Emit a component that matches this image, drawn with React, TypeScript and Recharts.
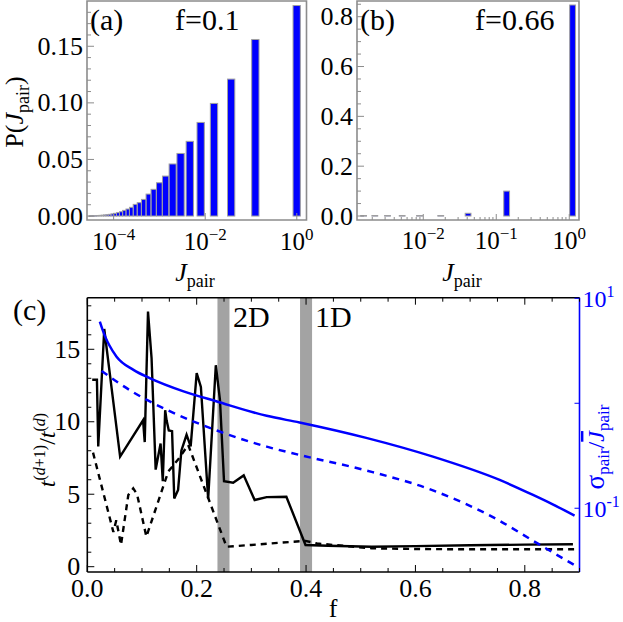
import React from "react";
import { ComposedChart, Bar, Line, XAxis, YAxis, ReferenceArea } from "recharts";

const SERIF = "Liberation Serif, Times New Roman, serif";
const BLUE = "#0000ff";
const FRAME = "#8c8c8c";

// (a) f = 0.1 : bin positions (J_pair) and probabilities
const jPairA = [
  1, 0.125, 0.03704, 0.01563, 0.008, 0.00463, 0.002915, 0.001953, 0.001372, 0.001,
  0.0007513, 0.0005787, 0.0004552, 0.0003644, 0.0002963, 0.0002441, 0.0002035,
  0.0001715, 0.0001458, 0.000125, 0.000108, 0.0000939, 0.0000822, 0.0000723,
  0.000064, 0.0000569, 0.0000508, 0.0000456, 0.000041, 0.000037, 0.0000336, 0.0000305,
];
const probA = [
  0.186, 0.156, 0.121, 0.0995, 0.0827, 0.066, 0.0553, 0.046, 0.0353, 0.0294, 0.0236,
  0.0194, 0.0147, 0.0118, 0.0103, 0.0077, 0.0062, 0.005, 0.0038, 0.003, 0.0024,
  0.0019, 0.0015, 0.0012, 0.001, 0.0008, 0.0006, 0.0005, 0.0004, 0.0003, 0.0003, 0.0002,
];

// (b) f = 0.66
const jPairB = [1, 0.125, 0.03704, 0.01563, 0.008, 0.00463, 0.002915, 0.001953, 0.001372];
const probB = [0.847, 0.1, 0.011, 0.002, 0.002, 0.002, 0.002, 0.002, 0.002];

// (c) t^(d+1)/t^(d) vs f (left axis)
const fRatio = [
  0.009, 0.0176, 0.02, 0.031, 0.06, 0.102, 0.105, 0.111, 0.1175, 0.125, 0.134, 0.138,
  0.1424, 0.145, 0.149, 0.155, 0.159, 0.166, 0.172, 0.1815, 0.189, 0.2, 0.2077, 0.221,
  0.235, 0.2426, 0.25, 0.2667, 0.286, 0.306, 0.328, 0.364, 0.399, 0.44, 0.52, 0.6, 0.7,
  0.8, 0.888,
];
const ratio = [
  12.9, 12.9, 8.3, 16.4, 7.6, 10.1, 8.6, 17.6, 14.4, 6.7, 8.5, 5.9, 10.8, 10.1, 9.4,
  9.35, 4.7, 5.3, 8.0, 9.1, 8.3, 13.35, 12.4, 4.7, 13.9, 11.5, 5.9, 5.8, 6.3, 4.6, 4.8,
  4.83, 1.5, 1.45, 1.38, 1.42, 1.48, 1.52, 1.55,
];
const fRatioDash = [
  0.0105, 0.0476, 0.053, 0.0616, 0.075, 0.084, 0.091, 0.108, 0.148, 0.166, 0.1845,
  0.2546, 0.3, 0.35, 0.399, 0.42, 0.52, 0.6, 0.7, 0.8, 0.9,
];
const ratioDash = [
  7.87, 2.4, 3.2, 1.5, 4.95, 5.4, 5.0, 2.07, 6.56, 7.4, 8.4, 1.38, 1.5, 1.65, 1.78,
  1.6, 1.27, 1.22, 1.2, 1.2, 1.2,
];

// (c) sigma_pair / mean J_pair vs f (right log axis)
const fSigma = [
  0.023, 0.028, 0.0335, 0.04, 0.0535, 0.0844, 0.115, 0.176, 0.237, 0.328, 0.388, 0.51,
  0.632, 0.754, 0.815, 0.851, 0.891,
];
const sigma = [
  5.98, 5.01, 4.22, 3.59, 2.78, 2.08, 1.73, 1.3, 1.04, 0.759, 0.656, 0.468, 0.31, 0.186,
  0.134, 0.109, 0.0851,
];
const fSigmaDash = [0.0262, 0.0416, 0.0535, 0.0844, 0.146, 0.237, 0.328, 0.388, 0.51, 0.632, 0.754, 0.815, 0.897];
const sigmaDash = [2.03, 1.78, 1.61, 1.27, 0.863, 0.55, 0.386, 0.322, 0.229, 0.148, 0.0759, 0.049, 0.0275];

const bands = [
  [0.238, 0.26],
  [0.389, 0.411],
];

// ticks
const xTicksA = [1e-4, 1e-2, 1];
const yTicksA = Array.from({ length: 19 }, (_, i) => i / 100);
const xTicksB = [0.002, 0.003, 0.004, 0.005, 0.006, 0.007, 0.008, 0.009, 0.01, 0.02, 0.03, 0.04, 0.05, 0.06, 0.07, 0.08, 0.09, 0.1, 0.2, 0.3, 0.4, 0.5, 0.6, 0.7, 0.8, 0.9, 1];
const yTicksB = Array.from({ length: 18 }, (_, i) => i * 0.05);
const xTicksC = Array.from({ length: 19 }, (_, i) => i * 0.05);
const yTicksCL = Array.from({ length: 19 }, (_, i) => i);
const yTicksCR = [0.1, 1, 10];

const near = (v: number, step: number) => Math.abs(v / step - Math.round(v / step)) < 1e-6;
const isDecade = (v: number) => near(Math.log10(v), 1);

const pow10 = (v: number, sup = 17, minus = "\u2212") => {
  const e = Math.round(Math.log10(v));
  return (
    <>
      <tspan>10</tspan>
      <tspan dy={-10} fontSize={sup}>{e < 0 ? minus + -e : String(e)}</tspan>
    </>
  );
};

type Side = "bottom" | "left" | "right" | "top";
interface TickOpts {
  color: string;
  textColor?: string;
  isMajor: (v: number) => boolean;
  label?: (v: number) => React.ReactNode | null;
  offset?: number;
  fontSize?: number;
  majorLen?: number;
  minorLen?: number;
}

function tickMaker(side: Side, o: TickOpts) {
  const { color, textColor = "#000", isMajor, label, offset = 0, fontSize = 26, majorLen = 7, minorLen = 4 } = o;
  return (props: any) => {
    const { x, y, payload } = props;
    const v = payload.value;
    const major = isMajor(v);
    const len = major ? majorLen : minorLen;
    const txt = major && label ? label(v) : null;
    const tprops = { fontFamily: SERIF, fontSize, fill: textColor };
    if (side === "bottom")
      return (
        <g>
          <line x1={x} x2={x} y1={y} y2={y - len} stroke={color} strokeWidth={1} />
          {txt != null && <text x={x} y={y + offset} textAnchor="middle" {...tprops}>{txt}</text>}
        </g>
      );
    if (side === "top")
      return (
        <g>
          <line x1={x} x2={x} y1={y} y2={y + len} stroke={color} strokeWidth={1} />
        </g>
      );
    if (side === "left")
      return (
        <g>
          <line x1={x} x2={x + len} y1={y} y2={y} stroke={color} strokeWidth={1} />
          {txt != null && <text x={x - offset} y={y + 8.5} textAnchor="end" {...tprops}>{txt}</text>}
        </g>
      );
    return (
      <g>
        <line x1={x} x2={x - len} y1={y} y2={y} stroke={color} strokeWidth={1} />
        {txt != null && <text x={x + offset} y={y + 9} textAnchor="start" {...tprops}>{txt}</text>}
      </g>
    );
  };
}

// ---------- panel (a)
const A_W = 330, A_H = 300;
const A_PLOT = { left: 87, right: 306.5, top: 1, bottom: 220 };
const domXA: [number, number] = [2.62e-5, 1.63];
const domYA: [number, number] = [-0.0035, 0.19];

function PanelA() {
  const data = jPairA.map((j, i) => ({ j, p: probA[i] }));
  const ppd = (A_PLOT.right - A_PLOT.left) / Math.log10(domXA[1] / domXA[0]);
  const shape = (props: any) => {
    const { x, y, width, height, index } = props;
    const cx = x + width / 2;
    const next = jPairA[index + 1];
    const gap = next ? Math.log10(jPairA[index] / next) : Math.log10(jPairA[index - 1] / jPairA[index]);
    const w = Math.min(7.3, gap * ppd);
    return <rect x={cx - w / 2} y={y} width={w} height={Math.max(height, 0.6)} fill={BLUE} stroke="#a0a0a0" strokeWidth={1} />;
  };
  return (
    <ComposedChart
      width={A_W}
      height={A_H}
      data={data}
      margin={{ top: A_PLOT.top, left: A_PLOT.left - 60, right: A_W - A_PLOT.right, bottom: A_H - A_PLOT.bottom - 40 }}
    >
      <XAxis
        dataKey="j"
        type="number"
        scale="log"
        domain={domXA}
        allowDataOverflow
        ticks={xTicksA}
        interval={0}
        tickSize={0}
        tickMargin={0}
        height={40}
        axisLine={false}
        tick={tickMaker("bottom", { color: FRAME, isMajor: () => true, label: (v) => pow10(v), offset: 30, fontSize: 25 })}
      />
      <YAxis
        type="number"
        domain={domYA}
        allowDataOverflow
        ticks={yTicksA}
        interval={0}
        width={60}
        tickSize={0}
        tickMargin={0}
        axisLine={false}
        tick={tickMaker("left", { color: FRAME, isMajor: (v) => near(v, 0.05), label: (v) => v.toFixed(2), offset: 4 })}
      />
      <ReferenceArea x1={domXA[0]} x2={domXA[1]} y1={domYA[0]} y2={domYA[1]} fill="none" stroke={FRAME} strokeWidth={1.6} />
      <Bar dataKey="p" barSize={6} shape={shape} isAnimationActive={false} />
    </ComposedChart>
  );
}

// ---------- panel (b)
const B_W = 313, B_H = 300;
const B_PLOT = { left: 47, right: 269, top: 1, bottom: 220 };
const domXB: [number, number] = [1.236e-3, 1.36];
const domYB: [number, number] = [-0.016, 0.863];

function PanelB() {
  const data = jPairB.map((j, i) => ({ j, p: probB[i] }));
  const shape = (props: any) => {
    const { x, y, width, height } = props;
    const left = x + width / 2;
    return <rect x={left} y={y} width={5.8} height={Math.max(height, 0.6)} fill={BLUE} stroke="#a0a0a0" strokeWidth={1} />;
  };
  return (
    <ComposedChart
      width={B_W}
      height={B_H}
      data={data}
      margin={{ top: B_PLOT.top, left: B_PLOT.left - 40, right: B_W - B_PLOT.right, bottom: B_H - B_PLOT.bottom - 40 }}
    >
      <XAxis
        dataKey="j"
        type="number"
        scale="log"
        domain={domXB}
        allowDataOverflow
        ticks={xTicksB}
        interval={0}
        tickSize={0}
        tickMargin={0}
        height={40}
        axisLine={false}
        tick={tickMaker("bottom", { color: FRAME, isMajor: isDecade, label: (v) => (v < 0.005 ? null : pow10(v)), offset: 29, fontSize: 25, majorLen: 6, minorLen: 3 })}
      />
      <YAxis
        type="number"
        domain={domYB}
        allowDataOverflow
        ticks={yTicksB}
        interval={0}
        width={40}
        tickSize={0}
        tickMargin={0}
        axisLine={false}
        tick={tickMaker("left", { color: FRAME, isMajor: (v) => near(v, 0.2), label: (v) => v.toFixed(1), offset: 4 })}
      />
      <ReferenceArea x1={domXB[0]} x2={domXB[1]} y1={domYB[0]} y2={domYB[1]} fill="none" stroke={FRAME} strokeWidth={1.6} />
      <Bar dataKey="p" barSize={6} shape={shape} isAnimationActive={false} />
    </ComposedChart>
  );
}

// ---------- panel (c)
const C_W = 623, C_H = 342;
const C_PLOT = { left: 87.3, right: 579.5, top: 17.7, bottom: 292 };
const domXC: [number, number] = [0, 0.9];
const domYL: [number, number] = [-0.366, 18.56];
const domYR: [number, number] = [0.0247, 10.13];

function PanelC() {
  const ratioData = fRatio.map((f, i) => ({ f, v: ratio[i] }));
  const ratioDashData = fRatioDash.map((f, i) => ({ f, v: ratioDash[i] }));
  const sigmaData = fSigma.map((f, i) => ({ f, v: sigma[i] }));
  const sigmaDashData = fSigmaDash.map((f, i) => ({ f, v: sigmaDash[i] }));
  return (
    <ComposedChart
      width={C_W}
      height={C_H}
      margin={{ top: C_PLOT.top - 1, left: C_PLOT.left - 60, right: C_W - C_PLOT.right - 40, bottom: C_H - C_PLOT.bottom - 40 }}
    >
      <XAxis
        xAxisId="b"
        dataKey="f"
        type="number"
        domain={domXC}
        allowDataOverflow
        ticks={xTicksC}
        interval={0}
        tickSize={0}
        tickMargin={0}
        height={40}
        axisLine={{ stroke: "#000", strokeWidth: 1.6 }}
        tick={tickMaker("bottom", { color: "#000", isMajor: (v) => near(v, 0.2), label: (v) => v.toFixed(1), offset: 25 })}
      />
      <XAxis
        xAxisId="t"
        orientation="top"
        dataKey="f"
        type="number"
        domain={domXC}
        allowDataOverflow
        ticks={xTicksC}
        interval={0}
        tickSize={0}
        tickMargin={0}
        height={1}
        axisLine={{ stroke: "#000", strokeWidth: 1.6 }}
        tick={tickMaker("top", { color: "#000", isMajor: (v) => near(v, 0.2) })}
      />
      <YAxis
        yAxisId="l"
        type="number"
        domain={domYL}
        allowDataOverflow
        ticks={yTicksCL}
        interval={0}
        width={60}
        tickSize={0}
        tickMargin={0}
        axisLine={{ stroke: "#000", strokeWidth: 1.6 }}
        tick={tickMaker("left", { color: "#000", isMajor: (v) => near(v, 5), label: (v) => String(v), offset: 7 })}
      />
      <YAxis
        yAxisId="r"
        orientation="right"
        type="number"
        scale="log"
        domain={domYR}
        allowDataOverflow
        ticks={yTicksCR}
        interval={0}
        width={40}
        tickSize={0}
        tickMargin={0}
        axisLine={{ stroke: BLUE, strokeWidth: 1.6 }}
        tick={tickMaker("right", { color: BLUE, textColor: BLUE, isMajor: () => true, label: (v) => (v === 1 ? null : pow10(v, 16, "-")), offset: 3, fontSize: 24, majorLen: 5 })}
      />
      {bands.map((b, i) => (
        <ReferenceArea key={i} xAxisId="b" yAxisId="l" x1={b[0]} x2={b[1]} y1={domYL[0]} y2={domYL[1]} fill="#a3a3a3" fillOpacity={1} stroke="none" />
      ))}
      <Line xAxisId="b" yAxisId="l" data={ratioDashData} dataKey="v" type="linear" stroke="#000" strokeWidth={2.4} strokeDasharray="6 5" dot={false} isAnimationActive={false} />
      <Line xAxisId="b" yAxisId="l" data={ratioData} dataKey="v" type="linear" stroke="#000" strokeWidth={2.4} dot={false} isAnimationActive={false} />
      <Line xAxisId="b" yAxisId="r" data={sigmaDashData} dataKey="v" type="monotone" stroke={BLUE} strokeWidth={2.5} strokeDasharray="7 6" dot={false} isAnimationActive={false} />
      <Line xAxisId="b" yAxisId="r" data={sigmaData} dataKey="v" type="monotone" stroke={BLUE} strokeWidth={2.5} dot={false} isAnimationActive={false} />
    </ComposedChart>
  );
}

export default function App() {
  const t = { fontFamily: SERIF, fill: "#000" };
  return (
    <div style={{ position: "absolute", left: 0, top: 0, width: 623, height: 622, background: "#fff", overflow: "hidden" }}>
      <div style={{ position: "absolute", left: 0, top: 0 }}>
        <PanelA />
      </div>
      <div style={{ position: "absolute", left: 310, top: 0 }}>
        <PanelB />
      </div>
      <div style={{ position: "absolute", left: 0, top: 280 }}>
        <PanelC />
      </div>
      <svg width={623} height={622} style={{ position: "absolute", left: 0, top: 0, pointerEvents: "none" }}>
        <text x={90} y={29.5} fontSize={30} {...t}>(a)</text>
        <text x={175} y={29.5} fontSize={30} {...t}>f=0.1</text>
        <text x={360} y={29.5} fontSize={30} {...t}>(b)</text>
        <text x={475} y={29.5} fontSize={30} {...t}>f=0.66</text>
        <text x={13} y={320} fontSize={30} {...t}>(c)</text>
        <text x={233} y={326.5} fontSize={30} {...t}>2D</text>
        <text x={315} y={326.5} fontSize={30} {...t}>1D</text>

        <text x={23} y={112} fontSize={26} textAnchor="middle" transform="rotate(-90 23 112)" {...t}>
          <tspan>P(</tspan>
          <tspan fontStyle="italic">J</tspan>
          <tspan fontSize={18} dy={6}>pair</tspan>
          <tspan dy={-6}>)</tspan>
        </text>

        <text x={195} y={281} fontSize={26} textAnchor="middle" {...t}>
          <tspan fontStyle="italic">J</tspan>
          <tspan fontSize={18} dy={6}>pair</tspan>
        </text>
        <text x={462} y={281} fontSize={26} textAnchor="middle" {...t}>
          <tspan fontStyle="italic">J</tspan>
          <tspan fontSize={18} dy={6}>pair</tspan>
        </text>

        <text x={333} y={617} fontSize={26} textAnchor="middle" {...t}>f</text>

        <text x={55} y={450} fontSize={24} textAnchor="middle" transform="rotate(-90 55 450)" {...t}>
          <tspan fontStyle="italic">t</tspan>
          <tspan fontSize={16} dy={-10}>(</tspan>
          <tspan fontSize={16} fontStyle="italic">d</tspan>
          <tspan fontSize={16}>+1)</tspan>
          <tspan dy={10}>/</tspan>
          <tspan fontStyle="italic">t</tspan>
          <tspan fontSize={16} dy={-10}>(</tspan>
          <tspan fontSize={16} fontStyle="italic">d</tspan>
          <tspan fontSize={16}>)</tspan>
        </text>

        <text x={604} y={447} fontSize={24} textAnchor="middle" transform="rotate(-90 604 447)" fontFamily={SERIF} fill={BLUE}>
          <tspan fontSize={27}>σ</tspan>
          <tspan fontSize={17} dy={5}>pair</tspan>
          <tspan dy={-5}>/</tspan>
          <tspan fontStyle="italic" style={{ textDecoration: "overline" }}>J</tspan>
          <tspan fontSize={17} dy={5}>pair</tspan>
        </text>
      </svg>
    </div>
  );
}
